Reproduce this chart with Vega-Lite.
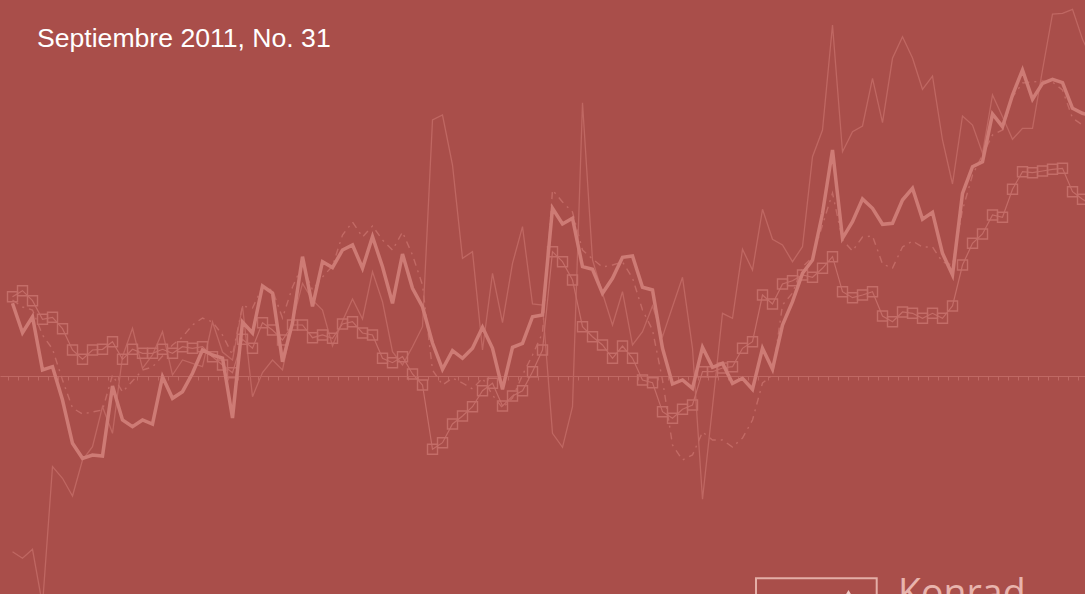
{
  "$schema": "https://vega.github.io/schema/vega-lite/v6.json",
  "width": 1085,
  "height": 594,
  "autosize": "none",
  "padding": 0,
  "background": "#A94E4A",
  "config": {"view": {"stroke": null}},
  "datasets": {"series": [
    {"i":0,"thick":72.7,"sq":79.3,"thin":-175.7,"dd":76},
    {"i":1,"thick":43.3,"sq":85.3,"thin":-182.3,"dd":69},
    {"i":2,"thick":59.3,"sq":75.3,"thin":-173.3,"dd":66},
    {"i":3,"thick":6,"sq":56.7,"thin":-229,"dd":41},
    {"i":4,"thick":9.3,"sq":58.7,"thin":-90.7,"dd":27},
    {"i":5,"thick":-24,"sq":47.3,"thin":-102.3,"dd":-4},
    {"i":6,"thick":-67.3,"sq":26,"thin":-120,"dd":-32},
    {"i":7,"thick":-82.3,"sq":16.7,"thin":-84,"dd":-38},
    {"i":8,"thick":-79,"sq":26,"thin":-70.7,"dd":-36},
    {"i":9,"thick":-80,"sq":26.7,"thin":-30.7,"dd":-34},
    {"i":10,"thick":-10,"sq":34.3,"thin":-57.3,"dd":1},
    {"i":11,"thick":-44,"sq":16.7,"thin":19.3,"dd":-16},
    {"i":12,"thick":-50.7,"sq":26.7,"thin":47.7,"dd":-5},
    {"i":13,"thick":-44,"sq":22.7,"thin":7.7,"dd":6},
    {"i":14,"thick":-48,"sq":22.7,"thin":21,"dd":9},
    {"i":15,"thick":-0.7,"sq":26.7,"thin":44.3,"dd":20},
    {"i":16,"thick":-22.3,"sq":22.7,"thin":1,"dd":31},
    {"i":17,"thick":-15.7,"sq":29.3,"thin":16,"dd":39},
    {"i":18,"thick":2.7,"sq":27.7,"thin":12.7,"dd":51},
    {"i":19,"thick":26,"sq":29.3,"thin":9.3,"dd":58},
    {"i":20,"thick":21,"sq":19.3,"thin":54,"dd":54},
    {"i":21,"thick":18,"sq":11,"thin":24,"dd":41},
    {"i":22,"thick":-42,"sq":3.3,"thin":16,"dd":21},
    {"i":23,"thick":54,"sq":36.7,"thin":70,"dd":70},
    {"i":24,"thick":43,"sq":27.7,"thin":-20.7,"dd":68},
    {"i":25,"thick":90,"sq":53.3,"thin":3.5,"dd":89},
    {"i":26,"thick":83,"sq":46,"thin":16,"dd":86},
    {"i":27,"thick":14.3,"sq":36,"thin":6,"dd":58},
    {"i":28,"thick":53,"sq":51,"thin":54.3,"dd":89},
    {"i":29,"thick":119.3,"sq":51,"thin":92.7,"dd":111},
    {"i":30,"thick":69.7,"sq":38.3,"thin":76,"dd":86},
    {"i":31,"thick":114.3,"sq":41,"thin":66,"dd":99},
    {"i":32,"thick":108.5,"sq":37.7,"thin":30,"dd":110},
    {"i":33,"thick":126,"sq":52,"thin":55,"dd":141},
    {"i":34,"thick":131,"sq":54.3,"thin":77,"dd":154},
    {"i":35,"thick":107.7,"sq":43,"thin":57,"dd":139},
    {"i":36,"thick":139.3,"sq":41,"thin":104.3,"dd":150},
    {"i":37,"thick":109.3,"sq":17.7,"thin":74.3,"dd":136},
    {"i":38,"thick":72.7,"sq":13.3,"thin":24.3,"dd":126},
    {"i":39,"thick":122,"sq":19.3,"thin":11,"dd":144},
    {"i":40,"thick":87.7,"sq":2,"thin":29.3,"dd":121},
    {"i":41,"thick":69.3,"sq":-9,"thin":49.3,"dd":91},
    {"i":42,"thick":33,"sq":-73.3,"thin":256,"dd":6},
    {"i":43,"thick":6.7,"sq":-66.7,"thin":261,"dd":-9},
    {"i":44,"thick":25.3,"sq":-48,"thin":211,"dd":-2},
    {"i":45,"thick":17.7,"sq":-40,"thin":117.7,"dd":-7},
    {"i":46,"thick":27.7,"sq":-30.7,"thin":124.3,"dd":-13},
    {"i":47,"thick":48.7,"sq":-14.7,"thin":26,"dd":-2},
    {"i":48,"thick":27.7,"sq":-7.3,"thin":102.7,"dd":-19},
    {"i":49,"thick":-13.3,"sq":-30,"thin":53.3,"dd":-32},
    {"i":50,"thick":28.7,"sq":-20,"thin":112.7,"dd":-22},
    {"i":51,"thick":32.7,"sq":-14.7,"thin":149.3,"dd":1},
    {"i":52,"thick":59.3,"sq":4.3,"thin":72,"dd":21},
    {"i":53,"thick":61,"sq":26,"thin":71,"dd":43},
    {"i":54,"thick":167.7,"sq":124.3,"thin":-57.3,"dd":186},
    {"i":55,"thick":152,"sq":114.3,"thin":-71.3,"dd":174},
    {"i":56,"thick":157.7,"sq":96,"thin":-30.7,"dd":164},
    {"i":57,"thick":109.3,"sq":49.3,"thin":273.3,"dd":126},
    {"i":58,"thick":106.7,"sq":39.3,"thin":116,"dd":117},
    {"i":59,"thick":82.7,"sq":31,"thin":82.7,"dd":109},
    {"i":60,"thick":97.7,"sq":17.7,"thin":51,"dd":111},
    {"i":61,"thick":118.7,"sq":30,"thin":84.3,"dd":114},
    {"i":62,"thick":120,"sq":17.7,"thin":31,"dd":98},
    {"i":63,"thick":88.7,"sq":-4,"thin":44.3,"dd":66},
    {"i":64,"thick":86,"sq":-6.7,"thin":70,"dd":46},
    {"i":65,"thick":27.7,"sq":-35.7,"thin":39.3,"dd":-4},
    {"i":66,"thick":-8,"sq":-42.3,"thin":69.3,"dd":-69},
    {"i":67,"thick":-4,"sq":-33.3,"thin":98.7,"dd":-84},
    {"i":68,"thick":-12.3,"sq":-29,"thin":27.7,"dd":-79},
    {"i":69,"thick":28.7,"sq":4.3,"thin":-123.3,"dd":-56},
    {"i":70,"thick":8.7,"sq":4.3,"thin":-30.7,"dd":-64},
    {"i":71,"thick":12.7,"sq":8,"thin":62.7,"dd":-64},
    {"i":72,"thick":-7.3,"sq":9.3,"thin":57.7,"dd":-71},
    {"i":73,"thick":-2.3,"sq":27.7,"thin":126.7,"dd":-62},
    {"i":74,"thick":-13.3,"sq":34.3,"thin":106,"dd":-44},
    {"i":75,"thick":27.7,"sq":81,"thin":166.7,"dd":-7},
    {"i":76,"thick":6.7,"sq":72,"thin":136.7,"dd":1},
    {"i":77,"thick":51,"sq":92,"thin":131,"dd":71},
    {"i":78,"thick":74.3,"sq":95.3,"thin":114.3,"dd":83},
    {"i":79,"thick":102.7,"sq":101,"thin":129.3,"dd":109},
    {"i":80,"thick":116,"sq":98.7,"thin":219.3,"dd":119},
    {"i":81,"thick":162.7,"sq":107.7,"thin":246,"dd":151},
    {"i":82,"thick":226,"sq":119.3,"thin":351,"dd":183},
    {"i":83,"thick":137.7,"sq":84.3,"thin":224.3,"dd":136},
    {"i":84,"thick":154.3,"sq":78.3,"thin":244.3,"dd":125},
    {"i":85,"thick":177,"sq":81,"thin":250,"dd":139},
    {"i":86,"thick":167.7,"sq":84.3,"thin":297.7,"dd":140},
    {"i":87,"thick":151.7,"sq":60,"thin":253.3,"dd":112},
    {"i":88,"thick":152.7,"sq":54.3,"thin":317.7,"dd":108},
    {"i":89,"thick":176,"sq":64,"thin":339.3,"dd":129},
    {"i":90,"thick":187.7,"sq":62.7,"thin":318,"dd":135},
    {"i":91,"thick":156.7,"sq":57.7,"thin":286.7,"dd":129},
    {"i":92,"thick":163.7,"sq":62.7,"thin":300,"dd":129},
    {"i":93,"thick":122.7,"sq":57.7,"thin":236,"dd":114},
    {"i":94,"thick":101,"sq":70,"thin":192,"dd":111},
    {"i":95,"thick":182.7,"sq":111,"thin":260,"dd":166},
    {"i":96,"thick":209.3,"sq":132.7,"thin":251,"dd":201},
    {"i":97,"thick":214.3,"sq":142,"thin":222.7,"dd":221},
    {"i":98,"thick":262,"sq":161,"thin":281,"dd":241},
    {"i":99,"thick":249.3,"sq":158.7,"thin":259.3,"dd":246},
    {"i":100,"thick":281,"sq":186.7,"thin":236.7,"dd":279},
    {"i":101,"thick":306,"sq":204.3,"thin":247.7,"dd":293},
    {"i":102,"thick":276.7,"sq":203.3,"thin":247.7,"dd":294},
    {"i":103,"thick":292.7,"sq":205,"thin":306,"dd":295},
    {"i":104,"thick":296.7,"sq":206.7,"thin":362,"dd":294},
    {"i":105,"thick":293.3,"sq":207.7,"thin":362.7,"dd":286},
    {"i":106,"thick":267.7,"sq":184.3,"thin":366.7,"dd":258},
    {"i":107,"thick":262.7,"sq":176.7,"thin":336.7,"dd":251},
    {"i":108,"thick":260,"sq":171,"thin":316,"dd":246}
  ],
  "labels": [{"title": "Septiembre 2011, No. 31", "brand": "Konrad"}]},
  "layer": [
    {
      "data": {"name": "series"},
      "mark": {"type": "line", "clip": true, "color": "#BF6762", "strokeWidth": 1.3},
      "encoding": {
        "x": {"field": "i", "type": "quantitative", "scale": {"domain": [-1.25, 107.25], "nice": false, "zero": false},
          "axis": {"orient": "bottom", "offset": -218, "labels": false, "title": null, "grid": false, "domainColor": "#BF6863", "domainWidth": 1, "tickColor": "#BF6863", "tickWidth": 1, "tickSize": 4, "tickCount": 110, "tickOffset": -5}},
        "y": {"field": "thin", "type": "quantitative", "scale": {"domain": [-218, 376], "nice": false, "zero": false}, "axis": null}
      }
    },
    {
      "data": {"name": "series"},
      "mark": {"type": "line", "clip": true, "color": "#C26A65", "strokeWidth": 1.4, "strokeDash": [7, 5, 2, 5]},
      "encoding": {
        "x": {"field": "i", "type": "quantitative"},
        "y": {"field": "dd", "type": "quantitative"}
      }
    },
    {
      "data": {"name": "series"},
      "mark": {"type": "line", "clip": true, "color": "#C46D68", "strokeWidth": 1.2},
      "encoding": {
        "x": {"field": "i", "type": "quantitative"},
        "y": {"field": "sq", "type": "quantitative"}
      }
    },
    {
      "data": {"name": "series"},
      "mark": {"type": "point", "clip": true, "shape": "square", "filled": false, "size": 100, "color": "#C46D68", "strokeWidth": 1.4, "opacity": 1},
      "encoding": {
        "x": {"field": "i", "type": "quantitative"},
        "y": {"field": "sq", "type": "quantitative"}
      }
    },
    {
      "data": {"name": "series"},
      "mark": {"type": "line", "clip": true, "color": "#CE7B75", "strokeWidth": 3.5, "strokeJoin": "miter"},
      "encoding": {
        "x": {"field": "i", "type": "quantitative"},
        "y": {"field": "thick", "type": "quantitative"}
      }
    },
    {
      "data": {"name": "labels"},
      "mark": {"type": "text", "font": "Liberation Sans", "fontSize": 26.6, "color": "#FFFFFF", "align": "left", "baseline": "alphabetic"},
      "encoding": {
        "text": {"field": "title", "type": "nominal"},
        "x": {"datum": 2.45, "type": "quantitative"},
        "y": {"datum": 329, "type": "quantitative"}
      }
    },
    {
      "data": {"name": "labels"},
      "mark": {"type": "rect", "filled": false, "stroke": "#E4AEA7", "strokeWidth": 2},
      "encoding": {
        "x": {"datum": 74.35, "type": "quantitative"},
        "x2": {"datum": 86.42},
        "y": {"datum": -202.3, "type": "quantitative"},
        "y2": {"datum": -240}
      }
    },
    {
      "data": {"name": "labels"},
      "mark": {"type": "point", "shape": "triangle-up", "filled": true, "size": 50, "color": "#F0CCC7", "opacity": 1},
      "encoding": {
        "x": {"datum": 83.6, "type": "quantitative"},
        "y": {"datum": -217, "type": "quantitative"}
      }
    },
    {
      "data": {"name": "labels"},
      "mark": {"type": "text", "font": "Open Sans", "fontSize": 37.5, "color": "#E8B4AD", "align": "left", "baseline": "alphabetic"},
      "encoding": {
        "text": {"field": "brand", "type": "nominal"},
        "x": {"datum": 88.55, "type": "quantitative"},
        "y": {"datum": -230, "type": "quantitative"}
      }
    }
  ]
}
